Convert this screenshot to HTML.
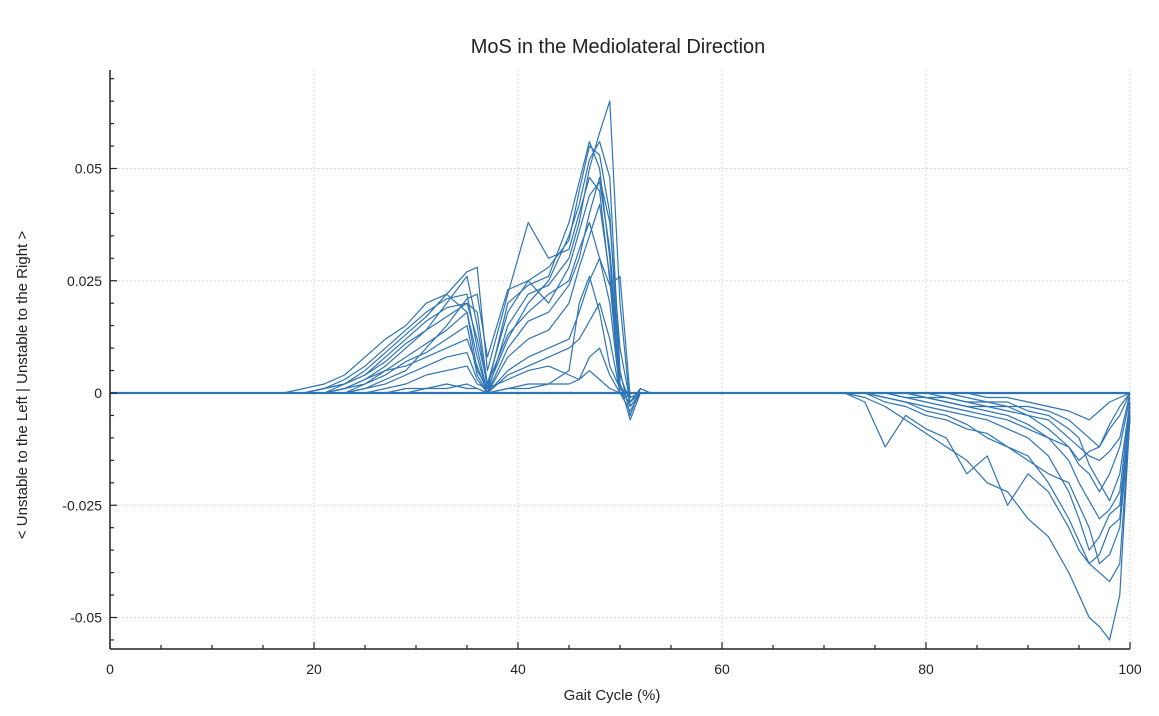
<!DOCTYPE html>
<html><head><meta charset="utf-8"><style>
body{margin:0;background:#fff;font-family:"Liberation Sans",sans-serif}
svg text{font-family:"Liberation Sans",sans-serif;fill:#222}
</style></head><body>
<svg width="1159" height="711" xmlns="http://www.w3.org/2000/svg">
<text x="618" y="53" font-size="20" text-anchor="middle">MoS in the Mediolateral Direction</text>
<text x="612" y="700" font-size="15" text-anchor="middle">Gait Cycle (%)</text>
<text transform="translate(27,385) rotate(-90)" font-size="15" text-anchor="middle">&lt; Unstable to the Left | Unstable to the Right &gt;</text>
<g id="grid"></g><g id="series"></g><g id="axes"></g>
</svg>
<script>
const xTicks=[0,20,40,60,80,100];
const yTicks=[-0.05,-0.025,0,0.025,0.05];
const yTickLabels=["-0.05","-0.025","0","0.025","0.05"];
const xsPos=[17,19,21,23,25,27,29,31,33,35,36,37,39,41,43,45,46,47,48,49,50,51,52,53,55];
const posMilli1=[0,0,1,3,6,10,14,18,21,22,10,0,15,22,24,30,38,50,58,65,20,-3,0,0,0];
const posMilli2=[0,1,2,4,8,12,15,20,22,18,5,1,12,20,25,35,42,52,56,48,5,-5,1,0,0];
const posMilli3=[0,0,0,2,4,8,12,16,19,20,12,2,18,25,28,34,45,55,53,40,2,-6,0,0,0];
const posMilli4=[0,0,0,1,3,6,10,14,20,26,15,1,20,24,26,38,47,56,50,30,0,-2,1,0,0];
const posMilli5=[0,0,1,2,5,9,13,17,22,27,28,5,22,38,30,32,40,48,45,25,0,-4,0,0,0];
const posMilli6=[0,0,0,1,2,5,8,11,14,18,8,0,10,16,18,24,30,40,48,38,10,-2,0,0,0];
const posMilli7=[0,0,0,0,2,4,7,9,12,15,4,0,8,12,14,20,28,35,42,26,2,-3,0,0,0];
const posMilli8=[0,0,0,1,3,5,6,8,10,12,6,0,5,8,10,12,18,25,30,20,0,-1,0,0,0];
const posMilli9=[0,0,0,0,1,2,4,6,8,9,3,0,4,6,8,10,12,16,20,12,0,0,0,0,0];
const posMilli10=[0,0,0,0,0,1,2,4,5,6,2,1,3,5,6,4,3,8,10,4,0,0,0,0,0];
const posMilli11=[0,0,0,0,1,3,5,10,15,21,22,8,23,25,20,28,36,44,47,32,4,-2,0,0,0];
const posMilli12=[0,0,0,0,0,0,1,1,2,1,1,0,1,2,2,5,20,26,18,6,1,0,0,0,0];
const posMilli13=[0,0,0,0,0,0,0,1,1,2,1,0,1,1,2,2,3,5,3,1,0,0,0,0,0];
const posMilli14=[0,0,1,2,4,7,11,14,17,20,18,2,13,18,22,25,32,38,30,24,26,-1,0,0,0];
const xsNeg=[72,74,76,78,80,82,84,86,88,90,92,94,95,96,97,98,99,100];
const negMilli1=[0,-1,-3,-6,-9,-12,-15,-20,-22,-28,-32,-40,-45,-50,-52,-55,-45,-5];
const negMilli2=[0,-2,-12,-5,-8,-10,-18,-14,-25,-18,-22,-30,-35,-38,-40,-42,-38,-5];
const negMilli3=[0,0,-2,-3,-5,-6,-8,-9,-12,-14,-20,-28,-33,-38,-36,-30,-28,-3];
const negMilli4=[0,0,-1,-2,-3,-4,-5,-6,-8,-10,-14,-22,-28,-35,-32,-27,-25,-4];
const negMilli5=[0,0,0,-1,-2,-3,-4,-5,-6,-8,-10,-15,-20,-24,-28,-26,-22,-2];
const negMilli6=[0,0,0,0,-1,-2,-3,-4,-5,-7,-10,-12,-16,-18,-22,-18,-12,-1];
const negMilli7=[0,0,0,0,0,-1,-2,-3,-3,-5,-6,-10,-12,-14,-15,-13,-10,0];
const negMilli8=[0,0,0,0,0,0,-1,-2,-2,-4,-5,-8,-10,-16,-20,-24,-18,-2];
const negMilli9=[0,0,0,-1,-1,-2,-3,-3,-4,-5,-8,-12,-15,-13,-12,-8,-5,0];
const negMilli10=[0,0,0,0,-1,-1,-2,-2,-3,-3,-4,-6,-8,-10,-12,-7,-3,0];
const negMilli11=[0,0,-1,-2,-4,-5,-7,-10,-12,-15,-18,-20,-25,-30,-38,-36,-30,-6];
const negMilli12=[0,0,0,0,0,0,0,-1,-1,-2,-3,-4,-5,-6,-4,-2,-1,0];

const X0=110,X1=1130,YT=70,YB=649;
const xS=v=>X0+(v/100)*(X1-X0);
const yS=v=>393-v*4490;
const NS="http://www.w3.org/2000/svg";
function mk(t,a,p){const e=document.createElementNS(NS,t);for(const k in a)e.setAttribute(k,a[k]);p.appendChild(e);return e;}
const grid=document.getElementById('grid'),ser=document.getElementById('series'),ax=document.getElementById('axes');
xTicks.forEach(t=>{if(t===0)return;const l=mk('line',{x1:xS(t),x2:xS(t),y1:YT,y2:YB,stroke:'#ccc','stroke-dasharray':'1.5,2.5'},grid);

});
yTicks.forEach(t=>{const l=mk('line',{x1:X0,x2:X1,y1:yS(t),y2:yS(t),stroke:'#ccc','stroke-dasharray':'1.5,2.5'},grid);

});
const pos=[posMilli1,posMilli2,posMilli3,posMilli4,posMilli5,posMilli6,posMilli7,posMilli8,posMilli9,posMilli10,posMilli11,posMilli12,posMilli13,posMilli14];
const neg=[negMilli1,negMilli2,negMilli3,negMilli4,negMilli5,negMilli6,negMilli7,negMilli8,negMilli9,negMilli10,negMilli11,negMilli12];
function draw(xs,vals,name){const d=xs.map((x,i)=>(i?'L':'M')+xS(x).toFixed(1)+','+yS(vals[i]/1000).toFixed(1)).join('');
const p=mk('path',{d:d,fill:'none',stroke:'#2e74b5','stroke-width':1.2,'stroke-linejoin':'round'},ser);

}
const b=mk('line',{x1:xS(0),x2:xS(100),y1:yS(0),y2:yS(0),stroke:'#2e74b5','stroke-width':2.2},ser);


pos.forEach((s,i)=>draw(xsPos,s,'stance-series-'+(i+1)));
neg.forEach((s,i)=>draw(xsNeg,s,'swing-series-'+(i+1)));
const ya=mk('line',{x1:X0,x2:X0,y1:YT,y2:YB,stroke:'#222','stroke-width':1.5},ax);


const xa=mk('line',{x1:X0,x2:X1,y1:YB,y2:YB,stroke:'#222','stroke-width':1.5},ax);


for(let v=0;v<=100;v+=5){const maj=v%20===0;mk('line',{x1:xS(v),x2:xS(v),y1:YB,y2:YB-(maj?7:4),stroke:'#222','stroke-width':1.2},ax);}
for(let k=-11;k<=14;k++){const v=k*0.005,y=yS(v);if(y<YT||y>YB)continue;const maj=k%5===0;mk('line',{x1:X0,x2:X0+(maj?7:4),y1:y,y2:y,stroke:'#222','stroke-width':1.2},ax);}
xTicks.forEach(t=>{const e=mk('text',{x:xS(t),y:YB+25,'font-size':14,'text-anchor':'middle'},ax);e.textContent=t;

});
yTicks.forEach((t,i)=>{const e=mk('text',{x:X0-8,y:yS(t)+5,'font-size':14,'text-anchor':'end'},ax);e.textContent=yTickLabels[i];

});
</script>
</body></html>
